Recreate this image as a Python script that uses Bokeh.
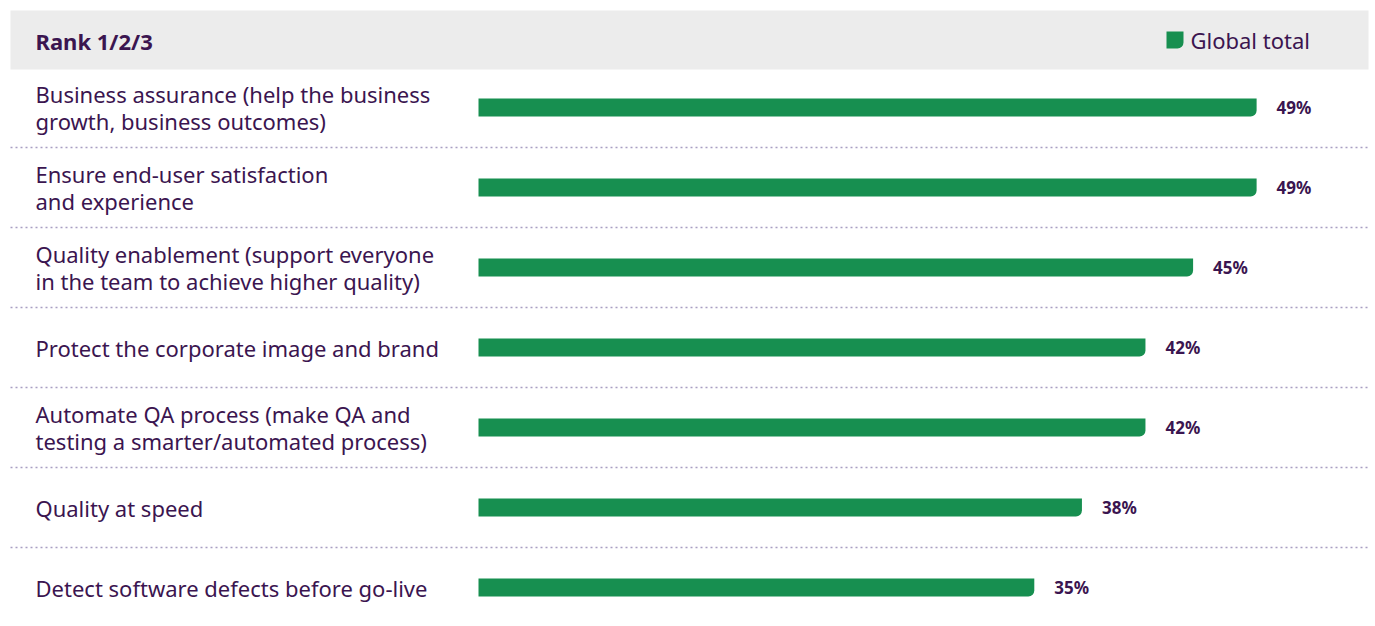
from bokeh.plotting import figure
from bokeh.models import Range1d, ColumnDataSource
from bokeh.core.properties import value
from bokeh.embed import file_html
from bokeh.resources import INLINE

categories = [
    "Business assurance (help the business\ngrowth, business outcomes)",
    "Ensure end-user satisfaction\nand experience",
    "Quality enablement (support everyone\nin the team to achieve higher quality)",
    "Protect the corporate image and brand",
    "Automate QA process (make QA and\ntesting a smarter/automated process)",
    "Quality at speed",
    "Detect software defects before go-live",
]
values = [49, 49, 45, 42, 42, 38, 35]
value_labels = ["49%", "49%", "45%", "42%", "42%", "38%", "35%"]
header_title = "Rank 1/2/3"
series_name = "Global total"

FONT = "Noto Sans"
GREEN = "#178f50"
TEXT = "#3b1550"
GRAY = "#ececec"
DOT = "#a99ec2"

W, H = 1372, 622
PX_PER_PCT = 15.88
BAR_X0 = 478.0           # figure px where value 0 sits
ROW_PX = 80.0
ROW0_Y = 107.0           # figure px of first row centre

def dx(px):
    return (px - BAR_X0) / PX_PER_PCT

def dy(py):
    return (py - ROW0_Y) / ROW_PX

n = len(categories)
rows = list(range(n))

p = figure(width=W, height=H, output_backend="svg", toolbar_location=None,
           x_range=Range1d(dx(0), dx(W)), y_range=Range1d(dy(H), dy(0)),
           min_border=0, outline_line_color=None)
p.axis.visible = False
p.grid.visible = False
p.background_fill_color = "white"
p.border_fill_color = "white"

# header band
p.quad(left=[dx(10)], right=[dx(1368)], top=[dy(10)], bottom=[dy(69)],
       fill_color=GRAY, line_color=None)
p.text(x=[dx(35)], y=[dy(40)], text=[header_title], text_font=value(FONT),
       text_font_size="22px", text_font_style="bold", text_color=TEXT,
       text_baseline="middle", text_align="left")
p.rect(x=[dx(1174.5)], y=[dy(39.5)], width=17, height=17, width_units="screen",
       height_units="screen", fill_color=GREEN, line_color=None,
       border_radius=(0, 0, 6, 0))
p.text(x=[dx(1190)], y=[dy(39)], text=[series_name], text_font=value(FONT),
       text_font_size="22px", text_color=TEXT, text_baseline="middle",
       text_align="left")

# separators
for i in range(n - 1):
    p.line(x=[dx(10), dx(1368)], y=[i + 0.5, i + 0.5], line_color=DOT,
           line_width=1.5, line_dash="2 3")

src = ColumnDataSource(dict(y=rows, v=values, cat=categories, lab=value_labels))

p.hbar(y="y", left=0, right="v", height=18 / ROW_PX, source=src,
       fill_color=GREEN, line_color=None, border_radius=(0, 0, 6, 0))

p.text(x=dx(35), y="y", text="cat", source=src, text_font=value(FONT),
       text_font_size="22px", text_color=TEXT, text_baseline="middle",
       text_align="left", text_line_height=0.9)

p.text(x="v", y="y", text="lab", source=src, x_offset=20,
       text_font=value(FONT), text_font_size="17px", text_font_style="bold",
       text_color=TEXT, text_baseline="middle", text_align="left")

open("out.html", "w").write(file_html(p, INLINE))
